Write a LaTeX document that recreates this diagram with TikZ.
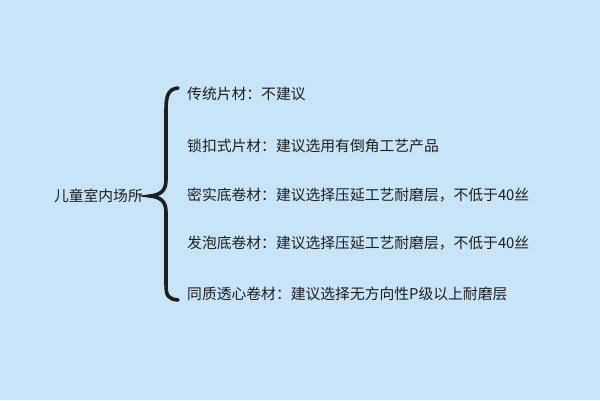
\documentclass[tikz,border=0pt]{standalone}
\usepackage{fontspec}
\setmainfont{Noto Sans CJK SC}
\usetikzlibrary{positioning}
\definecolor{bgblue}{HTML}{C8E4F8}
\definecolor{inkgray}{HTML}{1E1E1E}
\tikzset{item/.style={anchor=west,inner sep=0pt,text=inkgray,font=\fontsize{14.8}{17}\selectfont}}

\begin{document}
\begin{tikzpicture}[x=1pt,y=-1pt]
  % Background
  \fill[bgblue] (0,0) rectangle (600,400);
  \useasboundingbox (0,0) rectangle (600,400);

  % Brace
  \draw[line width=3.6pt,inkgray,line cap=round]
    (178,88) .. controls (168,89) and (166,96) .. (166,110) -- (166,180)
    .. controls (166,191) and (160,195) .. (150,196)
    .. controls (160,197) and (166,201) .. (166,212) -- (166,284)
    .. controls (166,296) and (168,299) .. (178,300);

  % Labels
  \node[item,anchor=east] (place) at (143,196) {儿童室内场所};
  \node[item] (pian) at (187,94) {传统片材：不建议};
  \node[item] (suokou) at (187,146) {锁扣式片材：建议选用有倒角工艺产品};
  \node[item] (mishi) at (187,195) {密实底卷材：建议选择压延工艺耐磨层，不低于40丝};
  \node[item] (fapao) at (187,243) {发泡底卷材：建议选择压延工艺耐磨层，不低于40丝};
  \node[item] (tongzhi) at (187,294) {同质透心卷材：建议选择无方向性P级以上耐磨层};
\end{tikzpicture}
\end{document}
